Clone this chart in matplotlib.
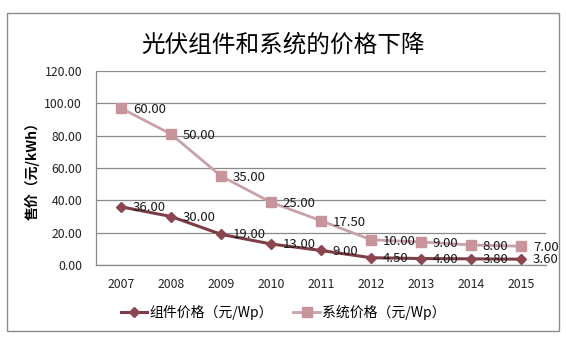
import matplotlib
matplotlib.use("Agg")
import matplotlib.pyplot as plt
from matplotlib.patches import Rectangle

plt.rcParams['font.family'] = ['Noto Sans CJK SC', 'DejaVu Sans']

years = ['2007', '2008', '2009', '2010', '2011', '2012', '2013', '2014', '2015']
# 组件价格 (plotted == label)
module_price = [36.0, 30.0, 19.0, 13.0, 9.0, 4.5, 4.0, 3.8, 3.6]
# 系统价格: the points sit higher than their labels in the original chart
system_plot = [97.0, 81.0, 55.0, 38.8, 27.4, 15.6, 14.2, 12.4, 11.6]
system_label = [60.0, 50.0, 35.0, 25.0, 17.5, 10.0, 9.0, 8.0, 7.0]

W, H = 566, 339
fig = plt.figure(figsize=(W / 100, H / 100), dpi=100)

# outer chart frame
fig.patches.append(Rectangle((7 / W, 1 - 331 / H), (559 - 7) / W, (331 - 13) / H,
                             transform=fig.transFigure, fill=False,
                             edgecolor='#8a8a8a', linewidth=1.0))

ax = fig.add_axes([96 / W, 1 - 265 / H, (546 - 96) / W, (265 - 71) / H])
x = list(range(len(years)))

c_mod = '#7d3d46'
c_sys = '#c9a1a8'

ax.plot(x, system_plot, color=c_sys, lw=2.0, marker='s', ms=7.5,
        mfc='#c8949c', mec='#c8949c', label='系统价格（元/Wp）', zorder=3)
ax.plot(x, module_price, color=c_mod, lw=2.2, marker='D', ms=5.5,
        mfc='#8b4650', mec='#8b4650', label='组件价格（元/Wp）', zorder=4)

for xi, v in zip(x, module_price):
    ax.annotate('%.2f' % v, (xi, v), xytext=(8.5, -0.5), textcoords='offset points',
                ha='left', va='center', fontsize=9.5, color='#1a1a1a', zorder=5)
for xi, v, lab in zip(x, system_plot, system_label):
    ax.annotate('%.2f' % lab, (xi, v), xytext=(8.5, -1), textcoords='offset points',
                ha='left', va='center', fontsize=9.5, color='#1a1a1a', zorder=5)

ax.set_xlim(-0.5, len(years) - 0.5)
ax.set_ylim(0, 120)
ax.set_yticks([0, 20, 40, 60, 80, 100, 120])
ax.set_yticklabels(['%.2f' % t for t in [0, 20, 40, 60, 80, 100, 120]])
ax.set_xticks(x)
ax.set_xticklabels(years)
ax.tick_params(axis='both', length=0, labelsize=8.8, colors='#222222')
ax.tick_params(axis='x', pad=9)
ax.tick_params(axis='y', pad=10)
ax.grid(axis='y', color='#8a8a8a', lw=0.9)
ax.set_axisbelow(True)
for s in ['top', 'right']:
    ax.spines[s].set_visible(False)
for s in ['left', 'bottom']:
    ax.spines[s].set_color('#8a8a8a')
    ax.spines[s].set_linewidth(0.9)

fig.text(32 / W, 1 - 168 / H, '售价（元/kWh）', rotation=90, ha='center', va='center',
         fontsize=10, fontweight='bold')
fig.text(283 / W, 1 - 45 / H, '光伏组件和系统的价格下降', ha='center', va='center',
         fontsize=17)

h, l = ax.get_legend_handles_labels()
fig.legend(h[::-1], l[::-1], loc='center', bbox_to_anchor=(283 / W, 1 - 312 / H),
           ncol=2, frameon=False, fontsize=10, handlelength=1.9, handletextpad=0.15,
           columnspacing=1.5)

fig.savefig('out.png', dpi=100)
